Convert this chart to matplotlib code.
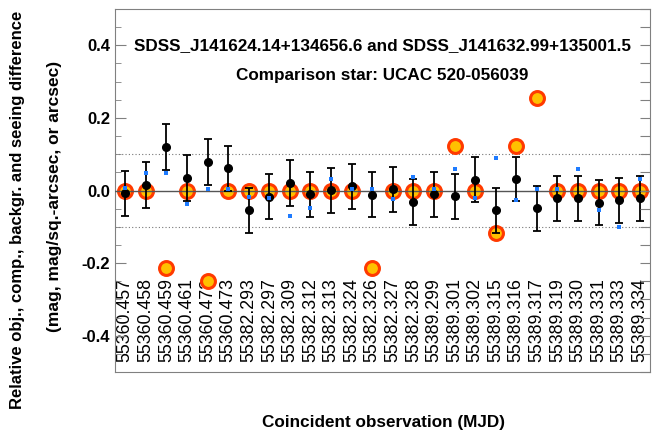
import matplotlib
matplotlib.use("Agg")
import matplotlib.pyplot as plt
from matplotlib.ticker import MultipleLocator
import numpy as np

plt.rcParams['font.family'] = ['Liberation Sans', 'DejaVu Sans']

labels = ["55360.457", "55360.458", "55360.459", "55360.461", "55360.472", "55360.473",
          "55382.293", "55382.297", "55382.309", "55382.312", "55382.313", "55382.324",
          "55382.326", "55382.327", "55382.328", "55389.299", "55389.301", "55389.302",
          "55389.315", "55389.316", "55389.317", "55389.319", "55389.330", "55389.331",
          "55389.333", "55389.334"]

obj_diff = [-0.008, 0.015, 0.120, 0.034, 0.078, 0.061, -0.054, -0.017, 0.020, -0.010,
            0.001, 0.012, -0.012, 0.004, -0.031, -0.010, -0.016, 0.029, -0.054, 0.032,
            -0.049, -0.021, -0.022, -0.034, -0.027, -0.021]
obj_err = [0.062, 0.063, 0.063, 0.063, 0.063, 0.062, 0.062, 0.062, 0.063, 0.062,
           0.062, 0.062, 0.062, 0.062, 0.063, 0.062, 0.062, 0.062, 0.062, 0.061,
           0.062, 0.062, 0.062, 0.062, 0.062, 0.062]
comp_diff = [0.006, 0.049, 0.047, -0.038, 0.005, 0.004, -0.019, -0.020, -0.071, -0.049,
             0.032, 0.005, 0.005, -0.023, 0.036, 0.005, 0.060, -0.022, 0.090, -0.025,
             0.005, 0.005, 0.060, -0.054, -0.100, 0.031]
seeing_diff = [0.0, 0.0, -0.213, 0.0, -0.249, 0.0, 0.0, 0.0, 0.0, 0.0,
               0.0, 0.0, -0.214, 0.0, 0.0, 0.0, 0.123, 0.0, -0.118, 0.123,
               0.256, 0.0, 0.0, 0.0, 0.0, 0.0]

title1 = "SDSS_J141624.14+134656.6 and SDSS_J141632.99+135001.5"
title2 = "Comparison star: UCAC 520-056039"

fig = plt.figure(figsize=(6.62, 4.34), dpi=100)
ax = fig.add_axes([115/662, 62/434, 535/662, 363/434])
x = np.arange(len(labels))

frame_col = '#808080'
ax.set_xlim(-0.5, len(labels) - 0.5)
ax.set_ylim(-0.5, 0.5)

ax.axhline(0.1, color='#777777', ls=(0, (1, 2)), lw=0.8, zorder=1)
ax.axhline(-0.1, color='#777777', ls=(0, (1, 2)), lw=0.8, zorder=1)

ax.scatter(x, seeing_diff, s=100, facecolor='#FFC000', edgecolor='#FF3A00',
           linewidth=2.2, zorder=2)
ax.axhline(0.0, color='#555555', lw=1.0, zorder=3)
ax.errorbar(x, obj_diff, yerr=obj_err, fmt='o', color='black', ms=5.5,
            ecolor='black', elinewidth=1.3, capsize=3, capthick=1.3, zorder=4)
ax.scatter(x, comp_diff, s=9, marker='s', color='#1E7BFF', linewidth=0, zorder=5)

for sp in ax.spines.values():
    sp.set_color(frame_col)

ax.set_xticks(x)
ax.set_xticklabels(labels, rotation=90, fontsize=12.8)
for t in ax.get_xticklabels():
    t.set_verticalalignment('bottom')
ax.tick_params(axis='x', length=0, pad=-7)

ax.yaxis.set_major_locator(MultipleLocator(0.2))
ax.yaxis.set_minor_locator(MultipleLocator(0.05))
ax.tick_params(axis='y', which='major', direction='in', length=8, color=frame_col,
               labelsize=12, right=False)
ax.tick_params(axis='y', which='minor', direction='in', length=4, color=frame_col,
               right=False)
ax.set_yticks(ax.get_yticks())
ax.set_yticklabels([f"{v:.1f}" for v in ax.get_yticks()], fontweight='bold')
ax.set_ylim(-0.5, 0.5)

ax2 = ax.twinx()
ax2.set_ylim(-0.5, 0.5)
ax2.yaxis.set_major_locator(MultipleLocator(0.05))
ax2.tick_params(axis='y', direction='in', length=7, color=frame_col, labelright=False)
for sp in ax2.spines.values():
    sp.set_visible(False)

ax.text(0.5, 0.898, title1, transform=ax.transAxes, ha='center', va='center',
        fontsize=12.3, fontweight='bold')
ax.text(0.5, 0.818, title2, transform=ax.transAxes, ha='center', va='center',
        fontsize=12.3, fontweight='bold')

fig.text(18/662, 1 - 210/434, "Relative obj., comp., backgr. and seeing difference",
         rotation=90, ha='center', va='center', fontsize=12, fontweight='bold')
fig.text(55/662, 1 - 196/434, "(mag, mag/sq.-arcsec, or arcsec)",
         rotation=90, ha='center', va='center', fontsize=12.5, fontweight='bold')
fig.text(383/662, 1 - 423/434, "Coincident observation (MJD)",
         ha='center', va='center', fontsize=12.3, fontweight='bold')

fig.savefig("out.png", dpi=100)
